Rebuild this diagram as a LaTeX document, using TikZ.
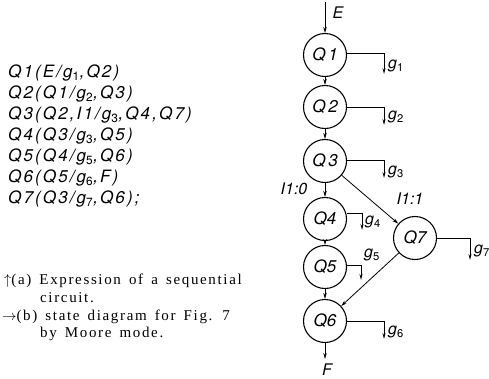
\documentclass[tikz,border=0pt]{standalone}
\usepackage{fontspec}
\setmainfont{Liberation Serif}
\setsansfont{TeX Gyre Heros}
\newfontfamily\exprfont{TeX Gyre Heros}[LetterSpace=12.5]
\newfontfamily\capfont{Liberation Serif}[LetterSpace=11, WordSpace=1.5]
\usetikzlibrary{arrows.meta}
\newcommand{\gs}[1]{g\textsubscript{\upshape #1}}
\tikzset{
  st/.style={draw, line width=1.1pt, circle, minimum size=43pt, inner sep=0pt, font=\sffamily\itshape\fontsize{17}{17}\selectfont},
  tr/.style={line width=0.8pt, -{Stealth[length=6pt,width=3.5pt]}},
  outl/.style={line width=0.8pt, -{Stealth[length=6pt,width=3pt]}},
  lab/.style={font=\sffamily\itshape\fontsize{16}{16}\selectfont, inner sep=1pt},
  expr/.style={anchor=west, font=\exprfont\itshape\fontsize{17}{17}\selectfont, inner sep=0pt},
  captxt/.style={anchor=west, font=\capfont\fontsize{15}{15}\selectfont, inner sep=0pt},
}
\begin{document}
\begin{tikzpicture}[x=1pt, y=-1pt]
\useasboundingbox (0,0) rectangle (489,378);
% expressions
\node[expr] (e1) at (8,73) {Q1(E/\gs{1},Q2)};
\node[expr] (e2) at (8,94) {Q2(Q1/\gs{2},Q3)};
\node[expr] (e3) at (8,115) {Q3(Q2,I1/\gs{3},Q4,Q7)};
\node[expr] (e4) at (8,136) {Q4(Q3/\gs{3},Q5)};
\node[expr] (e5) at (8,157) {Q5(Q4/\gs{5},Q6)};
\node[expr] (e6) at (8,178) {Q6(Q5/\gs{6},F)};
\node[expr] (e7) at (8,199) {Q7(Q3/\gs{7},Q6);};
% captions
\node[captxt] (c1) at (4,281) {$\uparrow$(a) Expression of a sequential};
\node[captxt] (c2) at (40,298) {circuit.};
\node[captxt] (c3) at (2,317) {$\rightarrow$(b) state diagram for Fig. 7};
\node[captxt] (c4) at (40,334) {by Moore mode.};
% states
\node[st] (Q1) at (325,55) {Q\,1};
\node[st] (Q2) at (325,107) {Q\,2};
\node[st] (Q3) at (325,161) {Q\,3};
\node[st] (Q4) at (325,219) {Q4};
\node[st] (Q5) at (325,267) {Q5};
\node[st] (Q6) at (325,321) {Q6};
\node[st] (Q7) at (415,238) {Q7};
% input / final
\coordinate (in) at (325,2);
\coordinate (fin) at (325,359);
\draw[tr] (in) -- (Q1);
\node[lab] (E) at (338,13) {E};
\draw[tr] (Q6) -- (fin);
\node[lab, anchor=north] (F) at (327,363) {F};
% transitions
\draw[tr] (Q1) -- (Q2);
\draw[tr] (Q2) -- (Q3);
\draw[tr] (Q3) -- (Q4);
\draw[tr] (Q4) -- (Q5);
\draw[tr] (Q5) -- (Q6);
\draw[tr] (Q3) -- (Q7);
\draw[tr] (Q7) -- (Q6);
\node[lab] (l0) at (294,189) {I1:0};
\node[lab] (l1) at (410,199) {I1:1};
% outputs
\coordinate (o1) at (384,74);
\draw[outl] (Q1.east) ++(0,-2) -| (o1);
\node[lab, anchor=west] (g1) at (387,66) {\gs{1}};
\coordinate (o2) at (384,125);
\draw[outl] (Q2.east) -| (o2);
\node[lab, anchor=west] (g2) at (387,117) {\gs{2}};
\coordinate (o3) at (384,178);
\draw[outl] (Q3.east) ++(0,-1) -| (o3);
\node[lab, anchor=west] (g3) at (387,172) {\gs{3}};
\coordinate (o4) at (362,230);
\draw[outl] (Q4.east) ++(0,-6) -| (o4);
\node[lab, anchor=west] (g4) at (364,222) {\gs{4}};
\coordinate (o5) at (361,280);
\draw[outl] (Q5.east) ++(0,-2) -| (o5);
\node[lab, anchor=west] (g5) at (363,255) {\gs{5}};
\coordinate (o6) at (384,339);
\draw[outl] (Q6.east) -| (o6);
\node[lab, anchor=west] (g6) at (387,332) {\gs{6}};
\coordinate (o7) at (470,260);
\draw[outl] (Q7.east) -| (o7);
\node[lab, anchor=west] (g7) at (473,251) {\gs{7}};
\end{tikzpicture}
\end{document}
